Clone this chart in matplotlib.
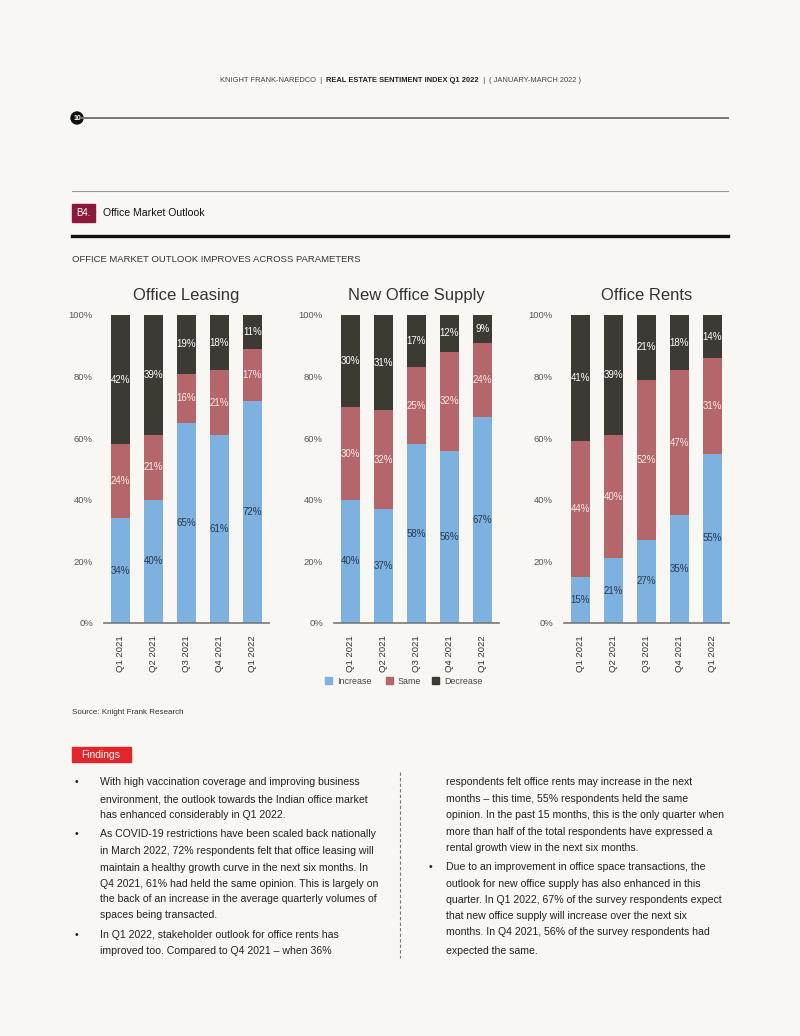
"""
B4. Office Market Outlook — 3 stacked bar charts + findings page
"""
import matplotlib
matplotlib.use('Agg')
import matplotlib.pyplot as plt
from matplotlib.patches import Rectangle, Circle
import numpy as np

plt.rcParams['font.family'] = ['Liberation Sans', 'DejaVu Sans']

# ---- データ ----
quarters = ['Q1 2021', 'Q2 2021', 'Q3 2021', 'Q4 2021', 'Q1 2022']
charts = ['Office Leasing', 'New Office Supply', 'Office Rents']
increase = {
    'Office Leasing':    [34, 40, 65, 61, 72],
    'New Office Supply': [40, 37, 58, 56, 67],
    'Office Rents':      [15, 21, 27, 35, 55],
}
same = {
    'Office Leasing':    [24, 21, 16, 21, 17],
    'New Office Supply': [30, 32, 25, 32, 24],
    'Office Rents':      [44, 40, 52, 47, 31],
}
decrease = {
    'Office Leasing':    [42, 39, 19, 18, 11],
    'New Office Supply': [30, 31, 17, 12, 9],
    'Office Rents':      [41, 39, 21, 18, 14],
}
yticks = [0, 20, 40, 60, 80, 100]

left_col = [
    ('•', 'With high vaccination coverage and improving business'),
    ('', 'environment, the outlook towards the Indian office market'),
    ('', 'has enhanced considerably in Q1 2022.'),
    ('•', 'As COVID-19 restrictions have been scaled back nationally'),
    ('', 'in March 2022, 72% respondents felt that office leasing will'),
    ('', 'maintain a healthy growth curve in the next six months. In'),
    ('', 'Q4 2021, 61% had held the same opinion. This is largely on'),
    ('', 'the back of an increase in the average quarterly volumes of'),
    ('', 'spaces being transacted.'),
    ('•', 'In Q1 2022, stakeholder outlook for office rents has'),
    ('', 'improved too. Compared to Q4 2021 – when 36%'),
]
left_y = [782, 799, 815, 834, 851, 868, 884, 899, 915, 935, 951]
right_col = [
    ('', 'respondents felt office rents may increase in the next'),
    ('', 'months – this time, 55% respondents held the same'),
    ('', 'opinion. In the past 15 months, this is the only quarter when'),
    ('', 'more than half of the total respondents have expressed a'),
    ('', 'rental growth view in the next six months.'),
    ('•', 'Due to an improvement in office space transactions, the'),
    ('', 'outlook for new office supply has also enhanced in this'),
    ('', 'quarter. In Q1 2022, 67% of the survey respondents expect'),
    ('', 'that new office supply will increase over the next six'),
    ('', 'months. In Q4 2021, 56% of the survey respondents had'),
    ('', 'expected the same.'),
]
right_y = [782, 799, 815, 832, 848, 867, 884, 900, 916, 932, 951]

# ---- スタイル ----
BG = '#f8f7f3'
C_INC = '#7cb1e0'
C_SAME = '#b5666a'
C_DEC = '#3d3a34'
TXT = '#222222'

W, H = 800, 1036
fig = plt.figure(figsize=(W / 100, H / 100), dpi=100)
fig.patch.set_facecolor(BG)


def fx(x):
    return x / W


def fy(y):
    return 1 - y / H


ax_bg = fig.add_axes([0, 0, 1, 1], zorder=-1)
ax_bg.set_xlim(0, W)
ax_bg.set_ylim(H, 0)
ax_bg.axis('off')

# ---- ヘッダー（順番に配置） ----
renderer = fig.canvas.get_renderer()
hx = 220
header_parts = [
    ('KNIGHT FRANK-NAREDCO', 'normal', '#444'),
    ('  |  ', 'normal', '#444'),
    ('REAL ESTATE SENTIMENT INDEX Q1 2022', 'bold', '#222'),
    ('  |  ', 'normal', '#444'),
    ('( JANUARY-MARCH 2022 )', 'normal', '#444'),
]
for s, fw, c in header_parts:
    t = ax_bg.text(hx, 81, s, fontsize=5.4, fontweight=fw, color=c,
                   ha='left', va='center')
    bb = t.get_window_extent(renderer=renderer)
    hx += bb.width

ax_bg.plot([82, 728], [118, 118], color='#777', lw=1.4)
ax_bg.add_patch(Circle((77, 118), 6, color='#111'))
ax_bg.text(77, 118.5, '10', color='white', fontsize=5, ha='center',
           va='center', fontweight='bold')

ax_bg.plot([72, 728], [191, 191], color='#999', lw=0.8)
ax_bg.add_patch(Rectangle((72, 204), 23, 18, color='#8b1a3a'))
ax_bg.text(83.5, 213, 'B4.', color='white', fontsize=7, ha='center', va='center')
ax_bg.text(103, 213, 'Office Market Outlook', color='#111', fontsize=7.6,
           ha='left', va='center')
ax_bg.plot([72, 728], [236, 236], color='#111', lw=2.4)
ax_bg.text(72, 259, 'OFFICE MARKET OUTLOOK IMPROVES ACROSS PARAMETERS',
           color='#333', fontsize=6.8, ha='left', va='center')

# ---- チャート ----
ax_left = [104, 334, 564]
AX_W = 165
Y0, Y100 = 623, 315
x = np.arange(len(quarters))

for name, xl in zip(charts, ax_left):
    ax = fig.add_axes([fx(xl), fy(Y0), AX_W / W, (Y0 - Y100) / H])
    ax.set_facecolor('none')
    inc = np.array(increase[name])
    sm = np.array(same[name])
    dec = np.array(decrease[name])
    ax.bar(x, inc, width=0.55, color=C_INC)
    ax.bar(x, sm, width=0.55, bottom=inc, color=C_SAME)
    ax.bar(x, dec, width=0.55, bottom=inc + sm, color=C_DEC)
    for i in range(len(x)):
        ax.text(x[i], inc[i] / 2, f'{inc[i]}%', ha='center', va='center',
                fontsize=7, color='#2b3a4d')
        ax.text(x[i], inc[i] + sm[i] / 2, f'{sm[i]}%', ha='center', va='center',
                fontsize=7, color='#f7e8e8')
        ax.text(x[i], inc[i] + sm[i] + dec[i] / 2, f'{dec[i]}%', ha='center',
                va='center', fontsize=7, color='white')
    ax.set_xlim(-0.5, 4.5)
    ax.set_ylim(0, 100)
    ax.set_yticks(yticks)
    ax.set_yticklabels([f'{t}%' for t in yticks], fontsize=6.8, color='#555')
    ax.set_xticks(x)
    ax.set_xticklabels(quarters, rotation=90, fontsize=6.8, color='#333')
    ax.tick_params(axis='x', length=0, pad=9)
    ax.tick_params(axis='y', length=0, pad=8)
    for sp in ['top', 'right', 'left']:
        ax.spines[sp].set_visible(False)
    ax.spines['bottom'].set_color('#777')
    ax.spines['bottom'].set_linewidth(1.2)
    ax.set_title(name, fontsize=12, color='#333', pad=11)

# ---- 凡例 ----
for lx, lab, c in [(325, 'Increase', C_INC), (386, 'Same', C_SAME), (432, 'Decrease', C_DEC)]:
    ax_bg.add_patch(Rectangle((lx, 677), 7, 7, color=c))
    ax_bg.text(lx + 12, 681, lab, fontsize=6.4, color='#444', ha='left', va='center')

ax_bg.text(72, 713, 'Source: Knight Frank Research', fontsize=5.8, color='#333',
           ha='left', va='center')

# ---- Findings ----
ax_bg.add_patch(Rectangle((72, 747), 59, 15, color='#e3262b'))
ax_bg.text(81, 754.5, 'Findings', color='white', fontsize=7.4, ha='left', va='center')
ax_bg.plot([400, 400], [772, 958], color='#777', lw=0.8, ls=(0, (3, 2)))

for (b, s), yy in zip(left_col, left_y):
    if b:
        ax_bg.text(75, yy, b, fontsize=7.5, color=TXT, ha='left', va='center')
    ax_bg.text(100, yy, s, fontsize=7.55, color=TXT, ha='left', va='center')
for (b, s), yy in zip(right_col, right_y):
    if b:
        ax_bg.text(429, yy, b, fontsize=7.5, color=TXT, ha='left', va='center')
    ax_bg.text(446, yy, s, fontsize=7.55, color=TXT, ha='left', va='center')

fig.savefig('out.png', dpi=100, facecolor=fig.get_facecolor())
